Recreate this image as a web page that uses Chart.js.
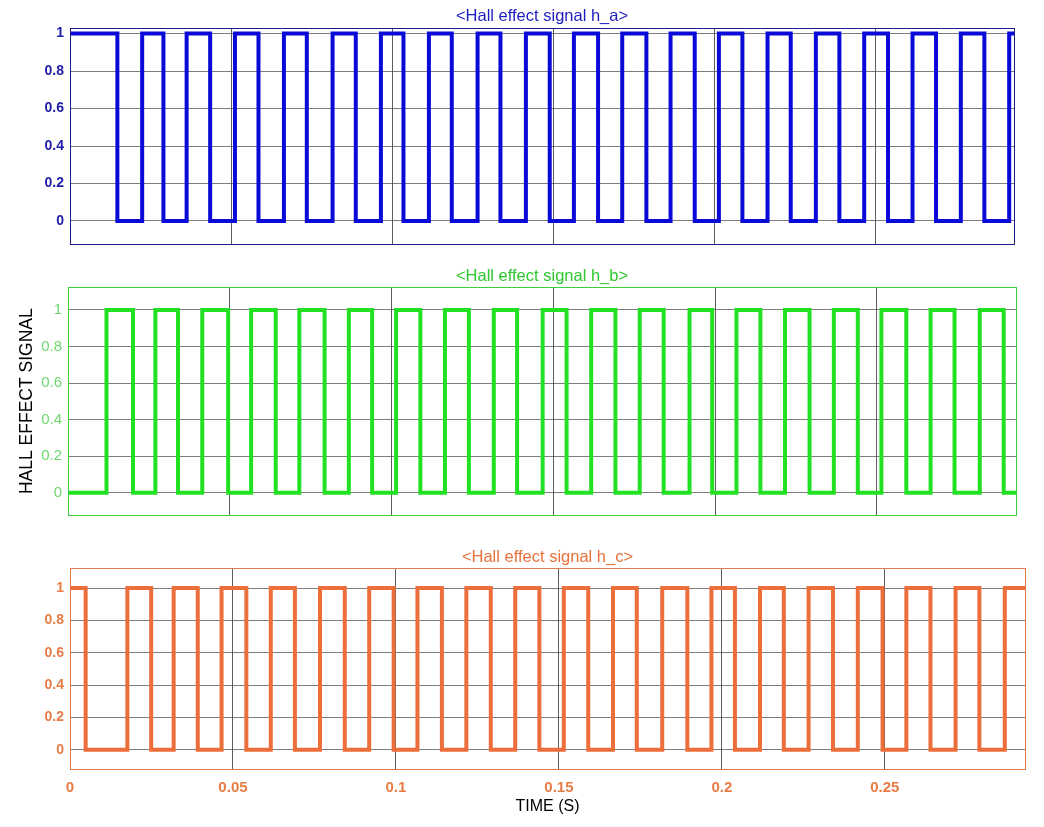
<!DOCTYPE html>
<html>
<head>
<meta charset="utf-8">
<script src="https://cdn.jsdelivr.net/npm/chart.js@4.4.1/dist/chart.umd.min.js"></script>
<style>
  html, body { margin: 0; padding: 0; background: #ffffff; }
  #wrap { position: relative; width: 1044px; height: 827px; overflow: hidden; }
  canvas { position: absolute; left: 0; }
</style>
</head>
<body>
<div id="wrap">
  <canvas id="ca" width="1044" height="260" style="top:0px"></canvas>
  <canvas id="cb" width="1044" height="270" style="top:260px"></canvas>
  <canvas id="cc" width="1044" height="297" style="top:530px"></canvas>
</div>
<script>
// ---- data (transition times in seconds) ----
const timeMax = 0.293;
const yTicks = [0, 0.2, 0.4, 0.6, 0.8, 1];
const xTicks = [0, 0.05, 0.1, 0.15, 0.2, 0.25];

const haStart = 1;
const haEdges = [0.0147, 0.0224, 0.0290, 0.0362, 0.0435, 0.0512, 0.0585, 0.0664, 0.0735, 0.0815,
                 0.0887, 0.0965, 0.1035, 0.1114, 0.1185, 0.1265, 0.1336, 0.1415, 0.1489, 0.1564,
                 0.1639, 0.1714, 0.1789, 0.1864, 0.1939, 0.2014, 0.2087, 0.2165, 0.2237, 0.2315,
                 0.2388, 0.2465, 0.2539, 0.2615, 0.2688, 0.2765, 0.2838, 0.2915];

const hbStart = 0;
const hbEdges = [0.0119, 0.0201, 0.0270, 0.0340, 0.0415, 0.0495, 0.0566, 0.0642, 0.0715, 0.0793,
                 0.0868, 0.0940, 0.1014, 0.1089, 0.1165, 0.1239, 0.1316, 0.1388, 0.1467, 0.1541,
                 0.1617, 0.1692, 0.1767, 0.1841, 0.1921, 0.1991, 0.2066, 0.2140, 0.2216, 0.2292,
                 0.2367, 0.2441, 0.2514, 0.2591, 0.2666, 0.2740, 0.2818, 0.2892];

const hcStart = 1;
const hcEdges = [0.0048, 0.0176, 0.0249, 0.0318, 0.0392, 0.0465, 0.0541, 0.0616, 0.0690, 0.0767,
                 0.0843, 0.0918, 0.0993, 0.1066, 0.1141, 0.1216, 0.1291, 0.1366, 0.1440, 0.1515,
                 0.1590, 0.1666, 0.1739, 0.1817, 0.1894, 0.1968, 0.2040, 0.2117, 0.2190, 0.2266,
                 0.2341, 0.2417, 0.2493, 0.2566, 0.2640, 0.2717, 0.2790, 0.2868];

const titles = ['<Hall effect signal h_a>', '<Hall effect signal h_b>', '<Hall effect signal h_c>'];
const yAxisTitle = 'HALL EFFECT SIGNAL';
const xAxisTitle = 'TIME (S)';

// ---- helpers ----
function stepPoints(start, edges, tEnd) {
  const pts = [{x: 0, y: start}];
  let lvl = start;
  edges.forEach(t => { lvl = 1 - lvl; pts.push({x: t, y: lvl}); });
  pts.push({x: tEnd, y: lvl});
  return pts;
}

const FONT = '"Liberation Sans", Arial, Helvetica, sans-serif';

const framePlugin = {
  id: 'frame',
  afterDatasetsDraw(chart, args, opts) {
    const a = chart.chartArea, ctx = chart.ctx;
    ctx.save();
    ctx.strokeStyle = opts.color;
    ctx.lineWidth = 1;
    ctx.strokeRect(Math.round(a.left) + 0.5, Math.round(a.top) + 0.5,
                   Math.round(a.right - a.left), Math.round(a.bottom - a.top));
    ctx.restore();
  }
};

function makeChart(id, cfg) {
  const datasets = [{
    data: stepPoints(cfg.start, cfg.edges, timeMax),
    stepped: true,
    borderColor: cfg.line,
    borderWidth: 4,
    pointRadius: 0,
    fill: false,
    tension: 0
  }];
  const xScale = {
    type: 'linear', min: 0, max: timeMax,
    afterBuildTicks: s => { s.ticks = xTicks.map(v => ({value: v})); },
    afterFit: s => { s.height = cfg.xHeight; },
    grid: { color: 'rgba(40,40,40,0.75)', lineWidth: 1, drawTicks: false },
    border: { display: false },
    ticks: {
      display: cfg.showX, padding: cfg.xPad, maxRotation: 0, autoSkip: false,
      color: cfg.tick, font: { family: FONT, size: 15, weight: 'bold' },
      callback: v => String(v)
    },
    title: {
      display: cfg.showX, text: xAxisTitle, color: '#000000',
      font: { family: FONT, size: 16 }, padding: { top: 10.4, bottom: 10.4 }
    }
  };
  const yScale = {
    type: 'linear', min: cfg.ymin, max: cfg.ymax, position: 'left',
    afterBuildTicks: s => { s.ticks = yTicks.map(v => ({value: v})); },
    afterFit: s => { s.width = cfg.left; },
    grid: { color: 'rgba(70,70,70,0.7)', lineWidth: 1, drawTicks: false },
    border: { display: false },
    ticks: {
      padding: 6, color: cfg.tick,
      font: { family: FONT, size: cfg.tickSize, weight: cfg.tickWeight },
      callback: v => String(v)
    },
    title: {
      display: !!cfg.yTitle, text: yAxisTitle, color: '#000000',
      font: { family: FONT, size: 17.5 }, padding: { top: 16.5, bottom: 16.5 }
    }
  };
  return new Chart(document.getElementById(id), {
    type: 'line',
    data: { datasets },
    options: {
      responsive: false, animation: false, events: [],
      layout: { padding: { left: 0, right: 1044 - cfg.right, top: 0, bottom: 0 } },
      scales: { x: xScale, y: yScale },
      plugins: {
        legend: { display: false }, tooltip: { enabled: false },
        title: {
          display: true, text: cfg.title, color: cfg.titleColor, fullSize: false,
          font: { family: FONT, size: 16.5, weight: 'normal' },
          padding: { top: cfg.tPadTop, bottom: cfg.tPadBot }
        },
        frame: { color: cfg.frame }
      }
    },
    plugins: [framePlugin]
  });
}

makeChart('ca', {
  start: haStart, edges: haEdges, title: titles[0],
  line: '#0a0ad8', frame: '#1c1c8a', tick: '#1d1da8', titleColor: '#1c1cc0',
  tickSize: 14, tickWeight: 'bold',
  left: 70, right: 1014, ymin: -0.123, ymax: 1.03,
  tPadTop: 6.1, tPadBot: 2.1, xHeight: 16, showX: false, xPad: 0
});
makeChart('cb', {
  start: hbStart, edges: hbEdges, title: titles[1], yTitle: true,
  line: '#22e022', frame: '#3ccc3c', tick: '#6ed86e', titleColor: '#30c830',
  tickSize: 15, tickWeight: 'normal',
  left: 68, right: 1016, ymin: -0.122, ymax: 1.124,
  tPadTop: 6.1, tPadBot: 1.4, xHeight: 11, showX: false, xPad: 0
});
makeChart('cc', {
  start: hcStart, edges: hcEdges, title: titles[2],
  line: '#ec6e3a', frame: '#e07a48', tick: '#e67c46', titleColor: '#e8703a',
  tickSize: 14, tickWeight: 'bold',
  left: 70, right: 1025, ymin: -0.119, ymax: 1.122,
  tPadTop: 17.1, tPadBot: 1.4, xHeight: 58, showX: true, xPad: 10
});
</script>
</body>
</html>
